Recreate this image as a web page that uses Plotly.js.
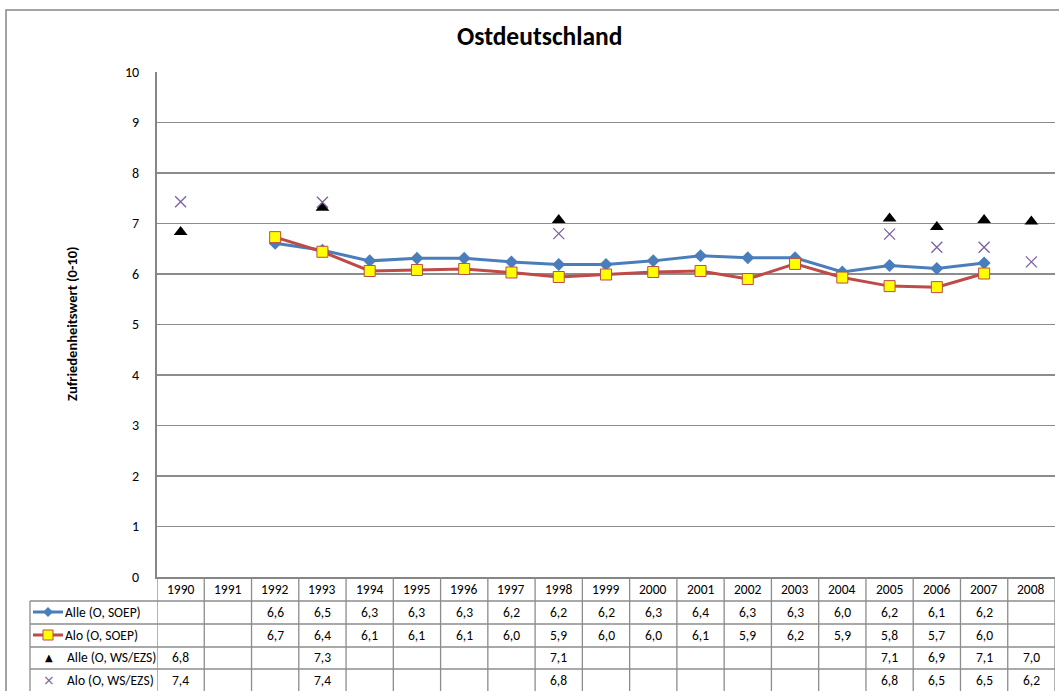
<!DOCTYPE html>
<html>
<head>
<meta charset="utf-8">
<script src="https://cdn.plot.ly/plotly-3.0.1.min.js"></script>
<style>html,body{margin:0;padding:0;background:#fff;}#chart{width:1059px;height:691px;}</style>
</head>
<body>
<div id="chart"></div>
<script>
// ---- data ----
const years = [1990,1991,1992,1993,1994,1995,1996,1997,1998,1999,2000,2001,2002,2003,2004,2005,2006,2007,2008];
const alleSOEP = [null,null,6.61,6.47,6.26,6.31,6.31,6.24,6.19,6.19,6.26,6.36,6.32,6.32,6.04,6.17,6.11,6.22,null];
const aloSOEP  = [null,null,6.73,6.44,6.06,6.08,6.10,6.03,5.94,5.99,6.04,6.06,5.90,6.20,5.93,5.76,5.74,6.01,null];
const alleWS   = [6.83,null,null,7.31,null,null,null,null,7.07,null,null,null,null,null,null,7.10,6.93,7.07,7.04];
const aloWS    = [7.43,null,null,7.42,null,null,null,null,6.80,null,null,null,null,null,null,6.79,6.53,6.53,6.24];
const seriesNames = ["Alle (O, SOEP)","Alo (O, SOEP)","Alle (O, WS/EZS)","Alo (O, WS/EZS)"];
const chartTitle = "Ostdeutschland";
const yTitle = "Zufriedenheitswert (0-10)";

// ---- layout helpers (pixel -> paper) ----
const L=157, R=1055, T=72, B=577, W=R-L, H=B-T;
const px = p => (p-L)/W;
const py = p => (B-p)/H;
const FONT = "Carlito, Calibri, Lato, 'Open Sans', sans-serif";
const blue = "#4a7ebb", red = "#be4b48", purple = "#7d60a0", grid = "#8c8c8c";
const TS = 13.5;

const traces = [
  {x: years, y: alleSOEP, name: seriesNames[0], mode: "lines+markers", connectgaps:false,
   line:{color:blue, width:3}, marker:{symbol:"diamond", size:10, color:blue}},
  {x: years, y: aloSOEP, name: seriesNames[1], mode: "lines+markers",
   line:{color:red, width:3}, marker:{symbol:"square", size:11, color:"#ffff00", line:{color:red, width:1}}},
  {x: years, y: alleWS, name: seriesNames[2], mode: "markers",
   marker:{symbol:"triangle-up", size:12, color:"#000"}},
  {x: years, y: aloWS, name: seriesNames[3], mode: "markers",
   marker:{symbol:"x-thin", size:11, color:purple, line:{color:purple, width:1.3}}}
];

const shapes = [];
const annotations = [];
const lineStyle = {color:grid, width:1.3};

// outer chart border (top & left visible)
shapes.push({type:"rect", xref:"paper", yref:"paper", x0:px(6), x1:px(1075), y0:py(10), y1:py(705),
  line:{color:"#868686", width:1.5}});

// data table grid
const rowLines = [601,624,647,669,692];
const rowCenters = [612,635,657.5,680];
for (let i=0;i<=years.length;i++){
  shapes.push({type:"line", xref:"x", yref:"paper", x0:years[0]-0.5+i, x1:years[0]-0.5+i, y0:py(577), y1:py(695), line:lineStyle});
}
rowLines.forEach(p=>{
  shapes.push({type:"line", xref:"paper", yref:"paper", x0:px(30), x1:1, y0:py(p), y1:py(p), line:lineStyle});
});
shapes.push({type:"line", xref:"paper", yref:"paper", x0:px(30), x1:px(30), y0:py(601), y1:py(695), line:lineStyle});

// header years
years.forEach(yr=>{
  annotations.push({xref:"x", yref:"paper", x:yr, y:py(589), text:String(yr), showarrow:false,
    font:{family:FONT, size:TS, color:"#000"}, xanchor:"center", yanchor:"middle"});
});
// values
const fmt = v => v.toFixed(1).replace(".", ",");
[alleSOEP, aloSOEP, alleWS, aloWS].forEach((arr,r)=>{
  arr.forEach((v,i)=>{
    if (v===null) return;
    annotations.push({xref:"x", yref:"paper", x:years[i], y:py(rowCenters[r]), text:fmt(v), showarrow:false,
      font:{family:FONT, size:TS, color:"#000"}, xanchor:"center", yanchor:"middle"});
  });
  annotations.push({xref:"paper", yref:"paper", x:px(r<2?63:65), y:py(rowCenters[r]), text:seriesNames[r], showarrow:false,
    font:{family:FONT, size:TS, color:"#000"}, xanchor:"left", yanchor:"middle"});
});

// legend keys
[[0,blue],[1,red]].forEach(([r,c])=>{
  shapes.push({type:"line", xref:"paper", yref:"paper", x0:px(33), x1:px(63), y0:py(rowCenters[r]), y1:py(rowCenters[r]), line:{color:c, width:3}});
});
{
  const cx=48, cy=rowCenters[0], d=5;
  shapes.push({type:"path", xref:"paper", yref:"paper",
    path:`M ${px(cx-d)},${py(cy)} L ${px(cx)},${py(cy-d)} L ${px(cx+d)},${py(cy)} L ${px(cx)},${py(cy+d)} Z`,
    fillcolor:blue, line:{color:blue, width:0}});
  const sy=rowCenters[1], s=5;
  shapes.push({type:"rect", xref:"paper", yref:"paper", x0:px(cx-s), x1:px(cx+s), y0:py(sy-s), y1:py(sy+s),
    fillcolor:"#ffff00", line:{color:red, width:1}});
}
annotations.push({xref:"paper", yref:"paper", x:px(49), y:py(rowCenters[2]), text:"▲", showarrow:false,
  font:{family:"DejaVu Sans", size:10, color:"#000"}, xanchor:"center", yanchor:"middle"});
annotations.push({xref:"paper", yref:"paper", x:px(49), y:py(rowCenters[3]), text:"×", showarrow:false,
  font:{family:"DejaVu Sans", size:14, color:purple}, xanchor:"center", yanchor:"middle"});

// titles
annotations.push({xref:"paper", yref:"paper", x:px(539), y:py(37), text:"<b>"+chartTitle+"</b>", showarrow:false,
  font:{family:FONT, size:25.5, color:"#000"}, xanchor:"center", yanchor:"middle"});
annotations.push({xref:"paper", yref:"paper", x:px(72), y:py(324), text:"<b>"+yTitle+"</b>", showarrow:false,
  textangle:-90, font:{family:FONT, size:14.5, color:"#000"}, xanchor:"center", yanchor:"middle"});

const layout = {
  width:1059, height:691,
  margin:{l:L, r:1059-R, t:T, b:691-B, pad:0},
  paper_bgcolor:"#fff", plot_bgcolor:"#fff",
  showlegend:false,
  xaxis:{range:[years[0]-0.5, years[years.length-1]+0.5], showticklabels:false, ticks:"", showgrid:false,
    zeroline:false, showline:true, linecolor:"#868686", linewidth:2, fixedrange:true},
  yaxis:{range:[0,10], dtick:1, tick0:0, showgrid:true, gridcolor:grid, gridwidth:1.3, zeroline:false,
    showline:true, linecolor:"#868686", linewidth:2, ticks:"", ticklabelstandoff:13,
    tickfont:{family:FONT, size:14, color:"#000"}, fixedrange:true},
  shapes, annotations
};

Plotly.newPlot("chart", traces, layout, {displayModeBar:false, staticPlot:true});
</script>
</body>
</html>
